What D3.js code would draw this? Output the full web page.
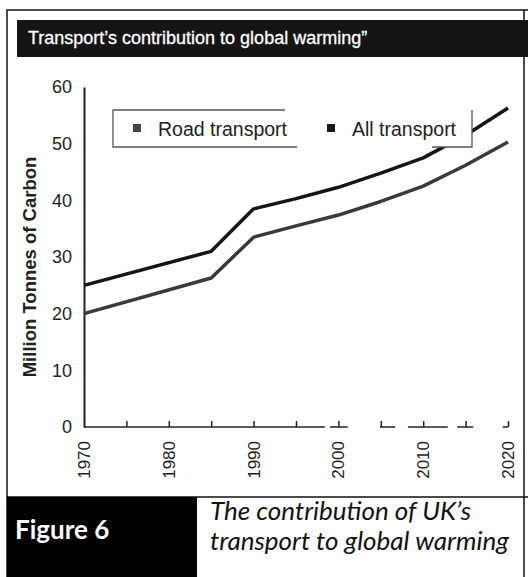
<!DOCTYPE html>
<html>
<head>
<meta charset="utf-8">
<script src="https://cdn.jsdelivr.net/npm/d3@7"></script>
<style>
body{margin:0;background:#fff;}
svg{display:block;}
</style>
</head>
<body>
<div id="chart"></div>
<script>
// values (million tonnes of carbon)
var years = [1970, 1985, 1990, 1995, 2000, 2005, 2010, 2015, 2020];
var allTransport = [25, 31, 38.5, 40.3, 42.3, 44.8, 47.5, 51.5, 56.3];
var roadTransport = [20, 26.3, 33.5, 35.5, 37.4, 39.8, 42.5, 46.2, 50.3];

var yTicks = [0, 10, 20, 30, 40, 50, 60];
var xLabels = [1970, 1980, 1990, 2000, 2010, 2020];
var xTicks = [1975, 1980, 1985, 1990, 1995, 2000, 2005, 2010, 2015, 2020];
// the printed x axis is broken in places
var axisPieces = [[1970, 1998.4], [1999, 2001.1], [2004.9, 2006.7], [2008.2, 2012.9], [2014, 2015.9], [2019.4, 2020]];

var legendNames = ["Road transport", "All transport"];
var legendColors = ["#444", "#1a1a1a"];

var title = "Transport\u2019s contribution to global warming\u201d";
var yTitle = "Million Tonnes of Carbon";
var figLabel = "Figure 6";
var caption = ["The contribution of UK\u2019s", "transport to global warming"];

var W = 528, H = 577;
var svg = d3.select("#chart").append("svg")
	.attr("width", W)
	.attr("height", H);

svg.append("rect").attr("width", W).attr("height", H).attr("fill", "#fff");

// frame
svg.append("path")
	.attr("d", "M7,577 L7,10 L528,10 M524,10 L524,577 M7,497 L528,497")
	.attr("fill", "none")
	.attr("stroke", "#111")
	.attr("stroke-width", 1.5);

// title bar
svg.append("rect")
	.attr("x", 17).attr("y", 20)
	.attr("width", W - 17).attr("height", 37)
	.attr("fill", "#151515");
svg.append("text")
	.attr("x", 28).attr("y", 44)
	.attr("font-family", "Liberation Sans, Arial, sans-serif")
	.attr("font-size", 18)
	.attr("fill", "#fff")
	.attr("stroke", "#fff")
	.attr("stroke-width", 0.3)
	.text(title);

var x = d3.scaleLinear().domain([1970, 2020]).range([84, 508]);
var y = d3.scaleLinear().domain([0, 60]).range([427, 87]);

// y axis
var yAxis = svg.append("g")
	.attr("transform", "translate(84,0)")
	.call(d3.axisLeft(y).tickValues(yTicks).tickSize(0).tickPadding(12));
yAxis.select(".domain").attr("stroke", "#222").attr("stroke-width", 2);
yAxis.selectAll("text")
	.attr("font-family", "Liberation Sans, Arial, sans-serif")
	.attr("font-size", 18)
	.attr("fill", "#222");

// x axis: ticks going up, broken base line
var xAxis = svg.append("g")
	.attr("transform", "translate(0,427)")
	.call(d3.axisBottom(x).tickValues(xTicks).tickSize(-6).tickFormat(""));
xAxis.select(".domain").remove();
xAxis.selectAll(".tick line").attr("stroke", "#222").attr("stroke-width", 1.5);

svg.append("g").selectAll("line")
	.data(axisPieces)
	.join("line")
	.attr("x1", function(d){ return x(d[0]); })
	.attr("x2", function(d){ return x(d[1]); })
	.attr("y1", 427).attr("y2", 427)
	.attr("stroke", "#222")
	.attr("stroke-width", 1.5);

svg.append("g").selectAll("text")
	.data(xLabels)
	.join("text")
	.attr("transform", function(d){ return "translate(" + (x(d) + 6) + ",441) rotate(-90)"; })
	.attr("text-anchor", "end")
	.attr("font-family", "Liberation Sans, Arial, sans-serif")
	.attr("font-size", 17)
	.attr("fill", "#222")
	.text(function(d){ return d; });

// y title
svg.append("text")
	.attr("transform", "translate(36,267) rotate(-90)")
	.attr("text-anchor", "middle")
	.attr("font-family", "Liberation Sans, Arial, sans-serif")
	.attr("font-weight", "bold")
	.attr("font-size", 18.5)
	.attr("fill", "#222")
	.text(yTitle);

// lines
var line = d3.line()
	.x(function(d){ return x(d[0]); })
	.y(function(d){ return y(d[1]); });

svg.append("path")
	.datum(years.map(function(yr, i){ return [yr, roadTransport[i]]; }))
	.attr("d", line)
	.attr("fill", "none")
	.attr("stroke", "#3a3a3a")
	.attr("stroke-width", 3.5)
	.attr("stroke-linejoin", "round");

svg.append("path")
	.datum(years.map(function(yr, i){ return [yr, allTransport[i]]; }))
	.attr("d", line)
	.attr("fill", "none")
	.attr("stroke", "#151515")
	.attr("stroke-width", 3.5)
	.attr("stroke-linejoin", "round");

// legend (hand drawn box, partly open)
var lg = svg.append("g");
lg.append("rect")
	.attr("x", 113).attr("y", 110)
	.attr("width", 359).attr("height", 37)
	.attr("fill", "#fff");
lg.append("path")
	.attr("d", "M285,110 L113,110 L113,147 L297,147 M432,147 L472,147 L472,110")
	.attr("fill", "none")
	.attr("stroke", "#555")
	.attr("stroke-width", 1.3);

var legendX = [133, 327];
legendNames.forEach(function(name, i){
	lg.append("rect")
		.attr("x", legendX[i]).attr("y", 124)
		.attr("width", 8).attr("height", 8)
		.attr("fill", legendColors[i]);
	lg.append("text")
		.attr("x", legendX[i] + 25).attr("y", 136)
		.attr("font-family", "Liberation Sans, Arial, sans-serif")
		.attr("font-size", 19.5)
		.attr("fill", "#222")
		.text(name);
});

// figure label and caption
svg.append("rect")
	.attr("x", 7).attr("y", 497)
	.attr("width", 190).attr("height", 80)
	.attr("fill", "#000");
svg.append("text")
	.attr("x", 15).attr("y", 539)
	.attr("font-family", "Lato, sans-serif")
	.attr("font-weight", "bold")
	.attr("font-size", 26)
	.attr("fill", "#fff")
	.text(figLabel);

svg.append("g").selectAll("text")
	.data(caption)
	.join("text")
	.attr("x", 210)
	.attr("y", function(d, i){ return 520 + i * 30; })
	.attr("font-family", "Lato, sans-serif")
	.attr("font-style", "italic")
	.attr("font-size", 26)
	.attr("fill", "#111")
	.text(function(d){ return d; });
</script>
</body>
</html>
